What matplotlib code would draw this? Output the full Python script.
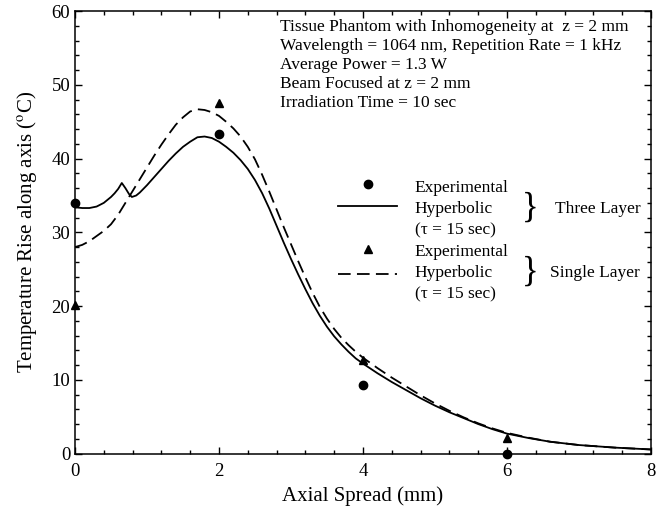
import matplotlib
matplotlib.use("Agg")
import matplotlib.pyplot as plt
from matplotlib.ticker import MultipleLocator

plt.rcParams['font.family'] = ['Liberation Serif', 'DejaVu Serif']
plt.rcParams['mathtext.fontset'] = 'stix'

# three layer model (solid curve)
x_three = [0, 0.1, 0.2, 0.3, 0.4, 0.5, 0.55, 0.6, 0.65, 0.7, 0.75, 0.79, 0.85, 0.9,
           1.0, 1.1, 1.2, 1.3, 1.4, 1.5, 1.6, 1.7, 1.8, 1.9, 2.0, 2.1, 2.2, 2.3,
           2.4, 2.5, 2.6, 2.7, 2.8, 2.9, 3.0, 3.1, 3.2, 3.3, 3.4, 3.5, 3.6, 3.7,
           3.8, 3.9, 4.0, 4.2, 4.4, 4.6, 4.8, 5.0, 5.2, 5.4, 5.6, 5.8, 6.0, 6.3,
           6.6, 7.0, 7.5, 8.0]
y_three = [33.4, 33.3, 33.3, 33.5, 34.0, 34.8, 35.3, 35.9, 36.7, 36.0, 35.2, 34.8,
           35.0, 35.4, 36.4, 37.5, 38.6, 39.7, 40.7, 41.6, 42.3, 42.9, 43.0, 42.8,
           42.3, 41.6, 40.8, 39.8, 38.6, 37.1, 35.3, 33.2, 30.9, 28.6, 26.4, 24.3,
           22.3, 20.4, 18.7, 17.2, 15.9, 14.8, 13.8, 12.9, 12.2, 10.9, 9.7, 8.6,
           7.5, 6.5, 5.6, 4.8, 4.0, 3.3, 2.7, 2.1, 1.6, 1.15, 0.8, 0.55]

# single layer model (dashed curve)
x_single = [0, 0.1, 0.2, 0.3, 0.4, 0.5, 0.6, 0.7, 0.8, 0.9, 1.0, 1.1, 1.2, 1.3,
            1.4, 1.5, 1.6, 1.7, 1.8, 1.9, 2.0, 2.1, 2.2, 2.3, 2.4, 2.5, 2.6, 2.7,
            2.8, 2.9, 3.0, 3.1, 3.2, 3.3, 3.4, 3.5, 3.6, 3.7, 3.8, 3.9, 4.0, 4.2,
            4.4, 4.6, 4.8, 5.0, 5.2, 5.4, 5.6, 5.8, 6.0, 6.3, 6.6, 7.0, 7.5, 8.0]
y_single = [28.0, 28.3, 28.8, 29.5, 30.2, 31.1, 32.4, 34.0, 35.6, 37.2, 38.8, 40.4,
            41.9, 43.3, 44.6, 45.6, 46.4, 46.7, 46.6, 46.3, 45.8, 45.0, 44.1, 43.0,
            41.6, 39.9, 37.8, 35.5, 33.1, 30.7, 28.4, 26.1, 23.9, 21.8, 19.9, 18.3,
            16.9, 15.7, 14.7, 13.8, 13.0, 11.6, 10.3, 9.1, 7.9, 6.8, 5.8, 4.9, 4.1,
            3.4, 2.8, 2.15, 1.6, 1.15, 0.8, 0.55]

# experimental points
x_exp = [0, 2, 4, 6]
y_exp_three = [34.0, 43.4, 9.3, 0.0]
y_exp_single = [20.1, 47.6, 12.7, 2.1]

info_lines = [
    "Tissue Phantom with Inhomogeneity at  z = 2 mm",
    "Wavelength = 1064 nm, Repetition Rate = 1 kHz",
    "Average Power = 1.3 W",
    "Beam Focused at z = 2 mm",
    "Irradiation Time = 10 sec",
]

fig = plt.figure(figsize=(6.65, 5.09), dpi=100)
ax = fig.add_axes([0.1128, 0.109, 0.866, 0.869])

ax.plot(x_three, y_three, 'k-', lw=1.3)
ax.plot(x_single, y_single, 'k-', lw=1.3, dashes=(7, 3.5))
ax.plot(x_exp, y_exp_three, 'ko', ms=6, clip_on=False, zorder=5)
ax.plot(x_exp, y_exp_single, 'k^', ms=6, clip_on=False, zorder=5)

ax.set_xlim(0, 8)
ax.set_ylim(0, 60)
ax.xaxis.set_major_locator(MultipleLocator(2))
ax.xaxis.set_minor_locator(MultipleLocator(0.4))
ax.yaxis.set_major_locator(MultipleLocator(10))
ax.yaxis.set_minor_locator(MultipleLocator(2))
ax.tick_params(which='both', direction='in', top=True, right=True,
               labelsize=13.5, width=1.0)
ax.tick_params(which='major', length=5)
ax.tick_params(which='minor', length=3)
ax.tick_params(axis='x', pad=7)
for s in ax.spines.values():
    s.set_linewidth(1.1)

ax.set_xlabel("Axial Spread (mm)", fontsize=15, labelpad=4)
ax.set_ylabel("Temperature Rise along axis ($^{\\mathrm{o}}$C)", fontsize=15, labelpad=9)

# info block
for i, line in enumerate(info_lines):
    ax.text(2.85, 57.9 - i * 2.6, line, fontsize=12.5, va='center', ha='left')

# hand-made legend
ax.plot([4.07], [36.6], 'ko', ms=6)
ax.plot([3.65, 4.47], [33.6, 33.6], 'k-', lw=1.3)
ax.plot([4.07], [27.7], 'k^', ms=6)
ax.plot([3.65, 4.47], [24.3, 24.3], 'k-', lw=1.3, dashes=(7, 3.5))
for y0 in (36.0, 27.4):
    ax.text(4.72, y0, "Experimental", fontsize=12.5, va='center')
    ax.text(4.72, y0 - 2.85, "Hyperbolic", fontsize=12.5, va='center')
    ax.text(4.72, y0 - 5.75, "(\u03c4 = 15 sec)", fontsize=12.5, va='center')
ax.text(6.32, 33.3, "}", fontsize=25, va='center', ha='center')
ax.text(6.32, 24.6, "}", fontsize=25, va='center', ha='center')
ax.text(6.67, 33.2, "Three Layer", fontsize=12.5, va='center')
ax.text(6.6, 24.5, "Single Layer", fontsize=12.5, va='center')

fig.savefig("out.png", dpi=100)
